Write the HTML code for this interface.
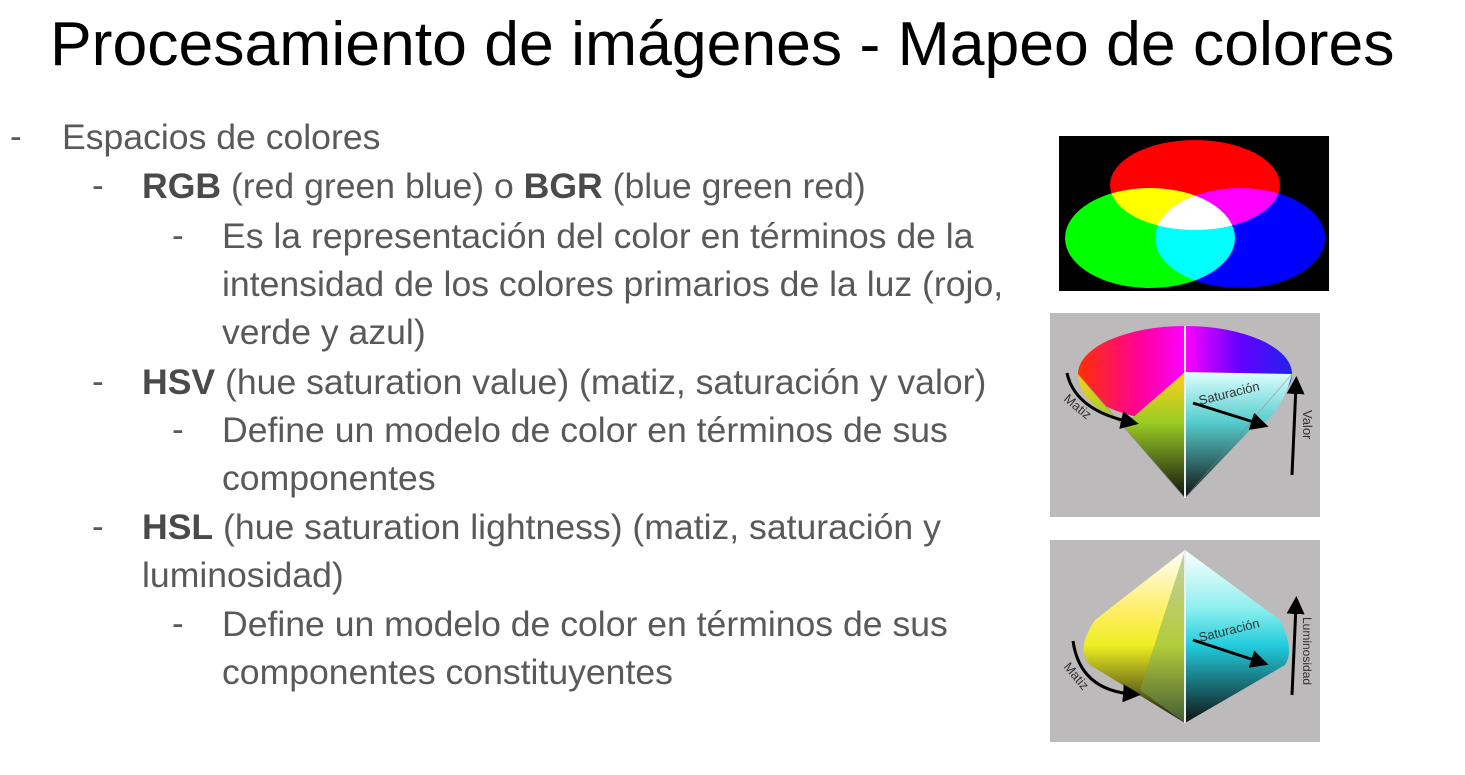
<!DOCTYPE html>
<html><head><meta charset="utf-8"><style>
body{margin:0;width:1465px;height:775px;background:#fff;overflow:hidden;position:relative;font-family:"Liberation Sans",Arial,sans-serif}
.t{position:absolute;left:50px;top:8px;font-size:62.5px;color:#000;white-space:nowrap}
.l{position:absolute;font-size:35.6px;color:#595959;white-space:nowrap;line-height:48px}
.l b{color:#4a4a4a}
.d{position:absolute;font-size:35px;color:#595959;line-height:48px}
</style></head><body>
<div class="t">Procesamiento de imágenes - Mapeo de colores</div>

<div class="d" style="left:10px;top:113px">-</div>
<div class="l" style="left:62px;top:113px">Espacios de colores</div>
<div class="d" style="left:92px;top:162px">-</div>
<div class="l" style="left:142px;top:162px"><b>RGB</b> (red green blue) o <b>BGR</b> (blue green red)</div>
<div class="d" style="left:172px;top:212px">-</div>
<div class="l" style="left:222px;top:212px">Es la representación del color en términos de la<br>intensidad de los colores primarios de la luz (rojo,<br>verde y azul)</div>
<div class="d" style="left:92px;top:358px">-</div>
<div class="l" style="left:142px;top:358px"><b>HSV</b> (hue saturation value) (matiz, saturación y valor)</div>
<div class="d" style="left:172px;top:406px">-</div>
<div class="l" style="left:222px;top:406px">Define un modelo de color en términos de sus<br>componentes</div>
<div class="d" style="left:92px;top:503px">-</div>
<div class="l" style="left:142px;top:503px"><b>HSL</b> (hue saturation lightness) (matiz, saturación y<br>luminosidad)</div>
<div class="d" style="left:172px;top:600px">-</div>
<div class="l" style="left:222px;top:600px">Define un modelo de color en términos de sus<br>componentes constituyentes</div>

<svg style="position:absolute;left:0;top:0" width="1465" height="775">
<defs>
<linearGradient id="top" x1="0" x2="1"><stop offset="0" stop-color="#ff3000"/><stop offset=".3" stop-color="#ff00a0"/><stop offset=".5" stop-color="#f0f"/><stop offset=".75" stop-color="#60f"/><stop offset="1" stop-color="#22e"/></linearGradient>
<linearGradient id="lf" x1="0" y1="0" x2="0" y2="1"><stop offset="0" stop-color="#ffd020"/><stop offset=".4" stop-color="#9c2"/><stop offset="1" stop-color="#111"/></linearGradient>
<linearGradient id="rf" x1="0" y1="0" x2="0" y2="1"><stop offset="0" stop-color="#dff"/><stop offset=".4" stop-color="#5cc"/><stop offset="1" stop-color="#111"/></linearGradient>
<linearGradient id="ll" x1="0" y1="0" x2="0" y2="1"><stop offset="0" stop-color="#fff"/><stop offset=".35" stop-color="#fe6"/><stop offset=".55" stop-color="#ee2"/><stop offset="1" stop-color="#111"/></linearGradient>
<linearGradient id="lr" x1="0" y1="0" x2="0" y2="1"><stop offset="0" stop-color="#fff"/><stop offset=".35" stop-color="#8ee"/><stop offset=".55" stop-color="#2cd"/><stop offset="1" stop-color="#111"/></linearGradient>
<marker id="a" markerWidth="6" markerHeight="6" refX="3" refY="3" orient="auto"><path d="M0,0L6,3L0,6z" fill="#000"/></marker>
</defs>
<rect x="1059" y="136" width="270" height="155" fill="#000"/>
<g style="mix-blend-mode:screen">
<ellipse cx="1195" cy="185" rx="85" ry="45" fill="#f00"/>
<ellipse cx="1150" cy="238" rx="85" ry="50" fill="#0f0" style="mix-blend-mode:screen"/>
<ellipse cx="1240" cy="238" rx="85" ry="50" fill="#00f" style="mix-blend-mode:screen"/>
</g>

<rect x="1050" y="313" width="270" height="204" fill="#bcbabb"/>
<ellipse cx="1185" cy="374" rx="107" ry="48" fill="url(#top)"/>
<path d="M1078,374 Q1080,410 1130,420 L1185,372 L1185,498z" fill="url(#lf)"/>
<path d="M1185,372 L1292,374 Q1280,420 1250,430 L1185,498z" fill="url(#rf)"/>
<path d="M1078,374 L1185,498 L1292,374" fill="none" stroke="#888" stroke-width="1" opacity=".5"/>
<line x1="1185" y1="326" x2="1185" y2="498" stroke="#eee" stroke-width="2"/>
<path d="M1067,373 Q1075,410 1130,422" fill="none" stroke="#000" stroke-width="3" marker-end="url(#a)"/>
<line x1="1193" y1="403" x2="1260" y2="424" stroke="#000" stroke-width="3" marker-end="url(#a)"/>
<line x1="1292" y1="475" x2="1296" y2="385" stroke="#000" stroke-width="3" marker-end="url(#a)"/>
<text x="1200" y="405" font-size="13" fill="#333" transform="rotate(-14 1200 405)" font-family="Liberation Sans">Saturación</text>
<text x="1063" y="400" font-size="13" fill="#333" transform="rotate(40 1063 400)" font-family="Liberation Sans">Matiz</text>
<text x="1303" y="410" font-size="13" fill="#333" transform="rotate(90 1303 410)" font-family="Liberation Sans">Valor</text>

<rect x="1050" y="540" width="270" height="202" fill="#bcbabb"/>
<path d="M1185,550 L1095,620 Q1075,650 1090,665 L1185,723z" fill="url(#ll)"/>
<path d="M1185,550 L1280,620 Q1295,650 1285,665 L1185,723z" fill="url(#lr)"/>
<path d="M1185,550 L1140,690 L1185,723z" fill="#7a5" opacity=".5"/>
<line x1="1185" y1="550" x2="1185" y2="723" stroke="#eee" stroke-width="2"/>
<path d="M1073,641 Q1080,690 1132,694" fill="none" stroke="#000" stroke-width="3" marker-end="url(#a)"/>
<line x1="1193" y1="640" x2="1260" y2="662" stroke="#000" stroke-width="3" marker-end="url(#a)"/>
<line x1="1292" y1="695" x2="1296" y2="605" stroke="#000" stroke-width="3" marker-end="url(#a)"/>
<text x="1200" y="642" font-size="13" fill="#333" transform="rotate(-14 1200 642)" font-family="Liberation Sans">Saturación</text>
<text x="1063" y="667" font-size="13" fill="#333" transform="rotate(50 1063 667)" font-family="Liberation Sans">Matiz</text>
<text x="1303" y="617" font-size="12" fill="#333" transform="rotate(90 1303 617)" font-family="Liberation Sans">Luminosidad</text>
</svg>
</body></html>
